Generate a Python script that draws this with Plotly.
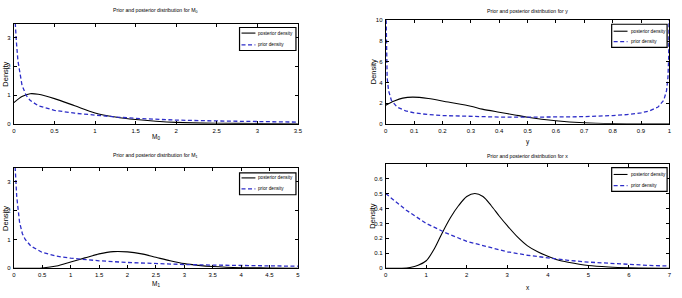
import plotly.graph_objects as go

# ---------------- data ----------------
m0_post_x = [0, 0.1, 0.2, 0.3, 0.5, 0.75, 1.0, 1.25, 1.5, 1.75, 2.0, 2.5, 3.0, 3.5]
m0_post_y = [0.74, 0.95, 1.05, 1.03, 0.88, 0.63, 0.38, 0.24, 0.15, 0.09, 0.05, 0.02, 0.01, 0.005]
m0_prior_x = [0.003, 0.015, 0.03, 0.05, 0.07, 0.1, 0.15, 0.2, 0.3, 0.5, 0.75, 1.0, 1.25, 1.5, 1.75, 2.0, 2.5, 3.0, 3.5]
m0_prior_y = [4.2, 3.5, 2.9, 2.2, 1.8, 1.35, 1.0, 0.82, 0.63, 0.47, 0.37, 0.3, 0.24, 0.19, 0.16, 0.13, 0.1, 0.08, 0.06]

y_post_x = [0, 0.03, 0.06, 0.095, 0.15, 0.22, 0.3, 0.34, 0.4, 0.455, 0.5, 0.6, 0.7, 0.8, 0.9, 1.0]
y_post_y = [1.8, 2.2, 2.48, 2.58, 2.45, 2.1, 1.7, 1.42, 1.12, 0.86, 0.64, 0.3, 0.1, 0.02, 0.0, 0.0]
y_prior_x = [0.0008, 0.0025, 0.005, 0.01, 0.02, 0.04, 0.07, 0.1, 0.15, 0.2, 0.3, 0.4, 0.5, 0.6, 0.7, 0.8, 0.85, 0.9, 0.93, 0.96, 0.98, 0.99, 0.995, 0.9975, 0.9992]
y_prior_y = [11.3, 6.4, 4.5, 3.2, 2.27, 1.62, 1.25, 1.06, 0.89, 0.8, 0.69, 0.65, 0.64, 0.65, 0.69, 0.8, 0.89, 1.06, 1.25, 1.62, 2.27, 3.2, 4.5, 6.4, 11.3]

m1_post_x = [0, 0.4, 0.5, 0.75, 1.0, 1.25, 1.5, 1.75, 2.0, 2.25, 2.5, 2.75, 3.0, 3.25, 3.5, 4.0, 4.5, 5.0]
m1_post_y = [0, 0, 0.01, 0.08, 0.22, 0.36, 0.5, 0.58, 0.57, 0.5, 0.38, 0.26, 0.16, 0.1, 0.06, 0.02, 0.01, 0.0]
m1_prior_x = [0.004, 0.02, 0.05, 0.1, 0.15, 0.2, 0.3, 0.5, 0.75, 1.0, 1.5, 2.0, 2.5, 3.0, 3.5, 4.0, 4.5, 5.0]
m1_prior_y = [4.2, 3.5, 2.5, 1.6, 1.2, 1.0, 0.77, 0.55, 0.42, 0.35, 0.26, 0.2, 0.16, 0.13, 0.11, 0.09, 0.08, 0.07]

x_post_x = [0, 0.4, 0.6, 0.8, 1.0, 1.2, 1.4, 1.6, 1.8, 2.0, 2.2, 2.4, 2.6, 2.8, 3.0, 3.25, 3.5, 3.75, 4.0, 4.25, 4.5, 5.0, 5.5, 6.0, 7.0]
x_post_y = [0, 0, 0.005, 0.02, 0.05, 0.13, 0.24, 0.34, 0.42, 0.48, 0.5, 0.48, 0.42, 0.35, 0.285, 0.21, 0.15, 0.11, 0.08, 0.055, 0.04, 0.018, 0.008, 0.003, 0.0]
x_prior_x = [0, 0.5, 1, 1.5, 2, 2.5, 3, 3.5, 4, 4.5, 5, 5.5, 6, 6.5, 7]
x_prior_y = [0.5, 0.39, 0.3, 0.235, 0.18, 0.145, 0.11, 0.087, 0.068, 0.053, 0.041, 0.032, 0.025, 0.019, 0.015]

titles = ["Prior and posterior distribution for M<sub>0</sub>",
          "Prior and posterior distribution for y",
          "Prior and posterior distribution for M<sub>1</sub>",
          "Prior and posterior distribution for x"]
xlabels = ["M<sub>0</sub>", "y", "M<sub>1</sub>", "x"]
ylabel = "Density"
legend_names = ["posterior density", "prior density"]
xranges = [[0, 3.5], [0, 1], [0, 5], [0, 7]]
yranges = [[0, 3.5], [0, 10], [0, 3.5], [0, 0.7]]
xticks = [[0, 0.5, 1, 1.5, 2, 2.5, 3, 3.5],
          [0, 0.1, 0.2, 0.3, 0.4, 0.5, 0.6, 0.7, 0.8, 0.9, 1],
          [0, 0.5, 1, 1.5, 2, 2.5, 3, 3.5, 4, 4.5, 5],
          [0, 1, 2, 3, 4, 5, 6, 7]]
yticks = [[0, 1, 2, 3], [0, 2, 4, 6, 8, 10], [0, 1, 2, 3], [0, 0.1, 0.2, 0.3, 0.4, 0.5, 0.6]]

# ---------------- layout geometry (pixels) ----------------
W, H = 682, 298
panels = [  # left, right, top, bottom
    (12, 299, 21, 123.3),
    (387.7, 674.3, 17.7, 123.3),
    (12, 299, 168, 270.7),
    (387.7, 674.3, 164, 270.7),
]
# legend box: left, right, top, bottom, entry1 y, entry2 y
legend_boxes = [
    (240, 297, 25, 48.5, 30.7, 42.7),
    (616, 672, 21.7, 45.3, 28.8, 39.5),
    (240, 297, 173.3, 195.7, 178.5, 189.7),
    (616, 672, 168, 192.3, 175, 186.3),
]
title_y = [8, 8, 156, 156]
xlab_y = [137, 142, 287, 290]
ylab_x = [4, 375, 4, 374.5]

FONT = "Liberation Sans Narrow, Liberation Sans, Arial, sans-serif"
POST_COLOR = "black"
PRIOR_COLOR = "rgb(45,45,200)"
POST_LINE = dict(color=POST_COLOR, width=1.1)
PRIOR_LINE = dict(color=PRIOR_COLOR, width=1.3, dash="4px,2.5px")

series = [
    (m0_post_x, m0_post_y, m0_prior_x, m0_prior_y),
    (y_post_x, y_post_y, y_prior_x, y_prior_y),
    (m1_post_x, m1_post_y, m1_prior_x, m1_prior_y),
    (x_post_x, x_post_y, x_prior_x, x_prior_y),
]


def px(xp):
    return xp / W


def py(yp):
    return 1 - yp / H


fig = go.Figure()
annotations = []
shapes = []
layout = {}
for i, (ax_, ay_, bx_, by_) in enumerate(series):
    n = i + 1
    xa = "x" if n == 1 else f"x{n}"
    ya = "y" if n == 1 else f"y{n}"
    fig.add_trace(go.Scatter(x=ax_, y=ay_, mode="lines", name=legend_names[0],
                             line=dict(**POST_LINE, shape="spline", smoothing=0.8),
                             xaxis=xa, yaxis=ya, showlegend=False))
    fig.add_trace(go.Scatter(x=bx_, y=by_, mode="lines", name=legend_names[1],
                             line=PRIOR_LINE, xaxis=xa, yaxis=ya, showlegend=False))
    l, r, t, b = panels[i]
    axcommon = dict(showline=True, linecolor="black", linewidth=1, mirror="allticks",
                    ticks="inside", ticklen=3, tickcolor="black", showgrid=False,
                    zeroline=False, tickfont=dict(family=FONT, size=6, color="black"))
    layout[f"xaxis{'' if n == 1 else n}"] = dict(
        domain=[px(l), px(r)], range=xranges[i], tickvals=xticks[i],
        anchor=ya, ticklabelstandoff=1, **axcommon)
    layout[f"yaxis{'' if n == 1 else n}"] = dict(
        domain=[py(b), py(t)], range=yranges[i], tickvals=yticks[i],
        anchor=xa, ticklabelstandoff=1, **axcommon)

    cx = (l + r) / 2
    annotations.append(dict(text=titles[i], x=px(cx), y=py(title_y[i]), xref="paper", yref="paper",
                            xanchor="center", yanchor="middle", showarrow=False,
                            font=dict(family=FONT, size=5.2, color="black")))
    annotations.append(dict(text=xlabels[i], x=px(cx), y=py(xlab_y[i]), xref="paper", yref="paper",
                            xanchor="center", yanchor="middle", showarrow=False,
                            font=dict(family=FONT, size=6.5, color="black")))
    annotations.append(dict(text=ylabel, x=px(ylab_x[i]), y=py((t + b) / 2), xref="paper", yref="paper",
                            xanchor="center", yanchor="middle", showarrow=False, textangle=-90,
                            font=dict(family=FONT, size=7.5, color="black")))

    # legend (box, sample lines, labels)
    bl, br, bt, bb, e1, e2 = legend_boxes[i]
    shapes.append(dict(type="rect", xref="paper", yref="paper", x0=px(bl), x1=px(br),
                       y0=py(bb), y1=py(bt), fillcolor="white",
                       line=dict(color="black", width=1.2), layer="above"))
    for ey, ln, name in ((e1, POST_LINE, legend_names[0]), (e2, PRIOR_LINE, legend_names[1])):
        shapes.append(dict(type="line", xref="paper", yref="paper", x0=px(bl + 2), x1=px(bl + 16),
                           y0=py(ey), y1=py(ey), line=ln, layer="above"))
        annotations.append(dict(text=name, x=px(bl + 17), y=py(ey), xref="paper", yref="paper",
                                xanchor="left", yanchor="middle", showarrow=False,
                                font=dict(family=FONT, size=4.7, color="black")))

fig.update_layout(width=W, height=H, margin=dict(l=0, r=0, t=0, b=0),
                  plot_bgcolor="white", paper_bgcolor="white", showlegend=False,
                  annotations=annotations, shapes=shapes, **layout)
fig.write_html("out.html")
